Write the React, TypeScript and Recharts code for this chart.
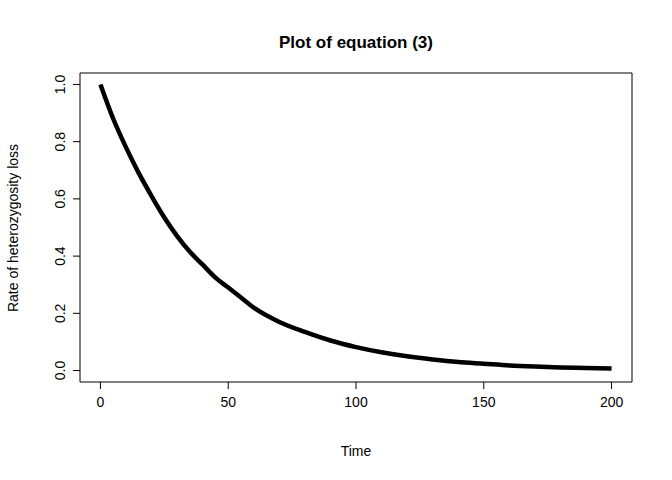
import { LineChart, Line, XAxis, YAxis, ReferenceArea } from 'recharts';

const times = [0, 5, 10, 15, 20, 25, 30, 35, 40, 45, 50, 55, 60, 70, 80, 90, 100, 110, 120, 130, 140, 150, 160, 170, 180, 190, 200];
const rates = [1, 0.88, 0.78, 0.69, 0.61, 0.535, 0.47, 0.415, 0.37, 0.325, 0.29, 0.255, 0.22, 0.17, 0.135, 0.105, 0.082, 0.064, 0.05, 0.039, 0.03, 0.024, 0.018, 0.014, 0.011, 0.009, 0.007];
const xTicks = [0, 50, 100, 150, 200];
const yTicks = [0, 0.2, 0.4, 0.6, 0.8, 1];

const data = times.map((t, i) => ({ t, r: rates[i] }));
const font = '"Liberation Sans", Arial, sans-serif';

function YTick({ x, y, payload }: any) {
  return (
    <text x={x - 6} y={y} transform={`rotate(-90 ${x - 6} ${y})`} textAnchor="middle" fontSize={14} fill="#000" fontFamily={font}>
      {payload.value.toFixed(1)}
    </text>
  );
}

function XTick({ x, y, payload }: any) {
  return (
    <text x={x} y={y + 16} textAnchor="middle" fontSize={14} fill="#000" fontFamily={font}>
      {payload.value}
    </text>
  );
}

export default function App() {
  return (
    <div style={{ position: 'absolute', left: 0, top: 0, width: 672, height: 480, background: '#fff', fontFamily: font }}>
      <LineChart width={672} height={480} data={data} margin={{ top: 73, right: 40, bottom: 0, left: 0 }}>
        <XAxis type="number" dataKey="t" domain={[-8, 208]} ticks={xTicks} axisLine={false} tickLine={{ stroke: '#000' }} tickSize={7} tick={<XTick />} height={98} />
        <YAxis type="number" domain={[-0.04, 1.04]} ticks={yTicks} axisLine={false} tickLine={{ stroke: '#000' }} tickSize={7} tick={<YTick />} width={80} />
        <ReferenceArea x1={-8} x2={208} y1={-0.04} y2={1.04} fill="none" stroke="#000" strokeWidth={1} ifOverflow="visible" />
        <Line type="monotone" dataKey="r" stroke="#000" strokeWidth={4.5} dot={false} isAnimationActive={false} />
        <text x={356} y={48} textAnchor="middle" fontSize={17} fontWeight="bold" fontFamily={font}>Plot of equation (3)</text>
        <text x={356} y={456} textAnchor="middle" fontSize={14} fontFamily={font}>Time</text>
        <text x={18} y={228} transform="rotate(-90 18 228)" textAnchor="middle" fontSize={14} fontFamily={font}>Rate of heterozygosity loss</text>
      </LineChart>
    </div>
  );
}
